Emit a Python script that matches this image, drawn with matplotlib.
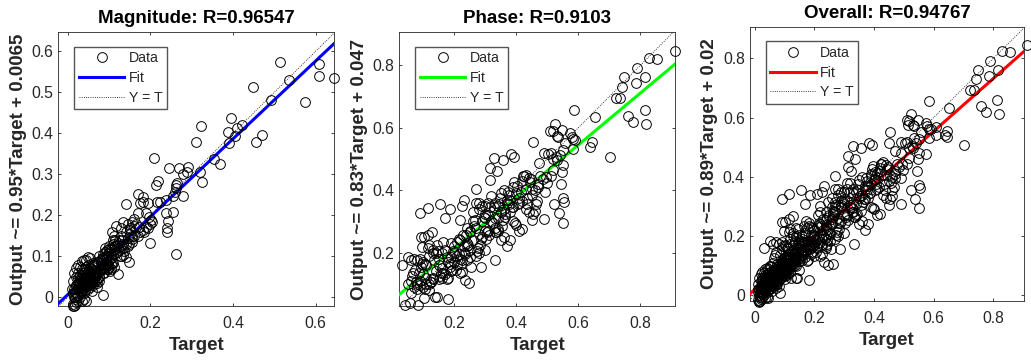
import matplotlib
matplotlib.use("Agg")
import matplotlib.pyplot as plt

plt.rcParams['font.family'] = ['Liberation Sans', 'DejaVu Sans']

mag_target = [
    .644,.608,.608,.574,.513,.535,.491,.449,.396,.421,
    .410,.404,.389,.390,.470,.456,.323,.310,.208,.246,
    .269,.290,.288,.278,.319,.325,.354,.369,.218,.213,
    .264,.262,.262,.260,.256,.278,.140,.171,.183,.183,
    .175,.195,.215,.223,.238,.254,.238,.242,.240,.240,
    .261,.200,.190,.196,.202,.198,.190,.182,.172,.165,
    .155,.145,.135,.130,.175,.170,.160,.150,.155,.185,
    .195,.205,.170,.160,.155,.148,.128,.135,.140,.148,
    .122,.108,.112,.118,.125,.130,.135,.110,.115,.120,
    .095,.100,.105,.110,.085,.090,.095,.100,.105,.110,
    .080,.085,.090,.095,.100,.105,.075,.080,.085,.090,
    .085,.075,.070,.065,.060,.055,.050,.045,.040,.035,
    .030,.025,.020,.015,.012,.010,.020,.025,.030,.035,
    .040,.045,.050,.055,.060,.065,.070,.075,.040,.045,
    .050,.055,.060,.030,.035,.040,.045,.050,.055,.020,
    .025,.030,.035,.040,.015,.020,.025,.030,.012,.015,
    .018,.020,.025,.012,.014,.016,.018,.035,.040,.045,
    .038,.035,.028,.030,.035,.040,.048,.052,.058,.062,
    .068,.072,.078,.082,.088,.092,.098,.102,.106,.110,
    .115,.120,.125,.130,.135,.140,.145,.150,.102,.098,
    .094,.090,.096,.104,.108,.112,.060,.062,.066,.070,
    .022,.027,.032,.037,.042,.047,.052,.057,.062,.067,
    .072,.077,.082,.087,.092,.097,.024,.029,.034,.039,
    .044,.049,.054,.059,.064,.069,.074,.079,.084,.089,
    .018,.023,.028,.033,.038,.043,.048,.053,.058,.063,
    .017,.021,.026,.031,.036,.041,.046,.051,.056,.061,
    .066,.071,.076,.081,.086,.091,.096,.101,.106,.111,
    .116,.121,.126,.131,.136,.141,.146,.151,.156,.161,
]
mag_output = [
    .535,.569,.540,.476,.574,.531,.482,.514,.438,.421,
    .412,.393,.402,.377,.396,.380,.419,.378,.341,.315,
    .315,.318,.306,.301,.306,.281,.337,.326,.283,.273,
    .280,.274,.266,.258,.246,.246,.228,.252,.245,.233,
    .229,.229,.232,.233,.237,.208,.205,.187,.168,.160,
    .106,.133,.205,.197,.189,.178,.172,.165,.172,.180,
    .185,.178,.183,.170,.160,.150,.175,.165,.150,.160,
    .168,.185,.205,.190,.135,.130,.100,.103,.098,.087,
    .057,.160,.150,.175,.140,.150,.130,.140,.125,.110,
    .115,.125,.115,.105,.105,.120,.100,.090,.095,.085,
    .085,.095,.110,.085,.075,.070,.100,.070,.060,.078,
    .007,.040,.035,.065,.070,.095,.098,.090,.092,.088,
    .075,.078,.072,.060,.040,.020,.050,.060,.045,.060,
    .070,.075,.080,.060,.055,.050,.045,.050,.045,.050,
    .035,.040,.035,.035,.030,.025,.030,.020,.025,.030,
    .020,.015,.015,.010,.020,.010,.005,.000,.010,.000,
    -.005,-.012,-.008,-.015,-.020,-.021,-.018,-.010,-.005,-.010,
    .055,.048,.040,.025,.040,.050,.060,.050,.015,.030,
    .040,.060,.070,.080,.090,.100,.105,.110,.120,.130,
    .140,.125,.115,.125,.120,.130,.145,.155,.065,.080,
    .095,.072,.070,.100,.085,.075,.080,.085,.060,.025,
    .020,.035,.028,.042,.036,.048,.058,.040,.066,.052,
    .062,.050,.072,.060,.082,.068,.048,.055,.068,.030,
    .040,.062,.072,.042,.078,.056,.086,.064,.096,.072,
    .012,.005,.022,.012,.026,.018,.038,.030,.046,.038,
    .002,.028,.034,.046,.020,.062,.028,.066,.034,.074,
    .056,.086,.062,.092,.068,.098,.078,.118,.082,.122,
    .108,.132,.102,.140,.112,.160,.125,.168,.142,.150,
]
phase_target = [
    .912,.855,.828,.788,.816,.786,.748,.741,.723,.735,
    .814,.759,.777,.819,.702,.585,.653,.644,.638,.591,
    .584,.573,.579,.524,.509,.519,.548,.532,.535,.557,
    .453,.583,.552,.541,.530,.519,.552,.490,.503,.511,
    .519,.546,.544,.552,.555,.523,.537,.552,.489,.472,
    .495,.498,.492,.471,.328,.356,.382,.392,.314,.337,
    .314,.270,.231,.224,.185,.170,.218,.114,.090,.154,
    .128,.116,.102,.092,.097,.229,.332,.285,.247,.234,
    .224,.218,.181,.143,.138,.103,.082,.057,.041,.030,
    .052,
    .06,.07,.08,.09,.05,.06,.07,.08,.10,.11,
    .12,.13,.14,.15,.16,.10,.11,.12,.13,.14,
    .06,.08,.09,.10,.11,.12,.13,.15,.16,.17,
    .18,.19,.20,.21,.17,.18,.19,.20,.21,.22,
    .23,.24,.25,.26,.27,.28,.22,.23,.24,.25,
    .26,.27,.28,.29,.30,.31,.26,.27,.28,.29,
    .30,.31,.32,.33,.34,.35,.36,.37,.38,.30,
    .32,.33,.34,.35,.36,.37,.38,.39,.40,.41,
    .42,.43,.44,.45,.46,.38,.39,.40,.41,.42,
    .43,.44,.45,.46,.47,.35,.36,.37,.34,.33,
    .28,.29,.30,.31,.25,.24,.19,.20,.15,.16,
    .065,.075,.085,.095,.105,.115,.125,.135,.145,.155,
    .165,.175,.185,.195,.205,.215,.225,.235,.245,.255,
    .265,.275,.285,.295,.305,.315,.325,.335,.345,.355,
    .365,.375,.385,.395,.405,.415,.425,.435,.445,.455,
    .072,.088,.104,.118,.132,.148,.162,.178,.192,.208,
    .222,.238,.252,.268,.282,.298,.312,.328,.342,.358,
    .372,.388,.402,.418,.432,.448,.462,.478,.512,.528,
    .068,.092,.126,.158,.186,.214,.242,.272,.302,.332,
    .348,.362,.378,.392,.408,.422,.436,.452,.468,.485,
]
phase_output = [
    .845,.820,.825,.791,.762,.742,.762,.731,.694,.694,
    .658,.638,.620,.611,.506,.657,.634,.555,.540,.561,
    .563,.582,.572,.612,.591,.590,.593,.575,.572,.550,
    .553,.532,.529,.513,.497,.499,.481,.518,.516,.518,
    .465,.459,.419,.374,.363,.356,.326,.296,.307,.487,
    .443,.424,.395,.411,.504,.497,.515,.507,.470,.462,
    .433,.403,.369,.349,.340,.310,.303,.342,.326,.356,
    .267,.257,.249,.249,.217,.257,.175,.155,.104,.112,
    .139,.134,.053,.057,.059,.056,.031,.040,.031,.160,
    .185,
    .175,.18,.175,.18,.10,.11,.09,.10,.17,.16,
    .19,.21,.20,.18,.20,.13,.12,.10,.12,.14,
    .07,.085,.11,.09,.10,.08,.20,.16,.15,.13,
    .12,.14,.17,.19,.21,.17,.23,.22,.16,.18,
    .22,.23,.21,.24,.19,.20,.24,.20,.22,.27,
    .30,.28,.26,.25,.21,.27,.33,.36,.36,.30,
    .35,.32,.30,.28,.27,.24,.25,.22,.24,.27,
    .38,.36,.35,.33,.34,.36,.33,.30,.29,.27,
    .275,.34,.33,.305,.335,.37,.41,.39,.36,.43,
    .45,.44,.385,.40,.42,.39,.40,.37,.31,.31,
    .34,.35,.31,.36,.265,.28,.185,.20,.115,.12,
    .125,.105,.135,.165,.085,.215,.105,.175,.225,.125,
    .235,.115,.155,.205,.145,.245,.175,.195,.225,.155,
    .285,.215,.245,.315,.265,.345,.295,.265,.355,.285,
    .325,.385,.345,.295,.355,.395,.445,.375,.425,.325,
    .145,.095,.165,.225,.115,.205,.135,.185,.145,.235,
    .165,.255,.185,.305,.225,.325,.255,.345,.275,.305,
    .395,.345,.415,.365,.405,.435,.355,.445,.445,.505,
    .135,.155,.105,.135,.165,.195,.175,.205,.245,.265,
    .375,.315,.355,.425,.375,.445,.355,.405,.365,.435,
]
overall_target = mag_target + phase_target
overall_output = mag_output + phase_output

titles = ["Magnitude: R=0.96547", "Phase: R=0.9103", "Overall: R=0.94767"]
ylabels = ["Output ~= 0.95*Target + 0.0065", "Output ~= 0.83*Target + 0.047",
           "Output ~= 0.89*Target + 0.02"]
slopes = [0.95, 0.83, 0.89]
intercepts = [0.0065, 0.047, 0.02]
fit_colors = ["#0000ff", "#00ff00", "#ff0000"]
xlims = [(-0.0226, 0.645), (0.0226, 0.913), (-0.0168, 0.904)]
ylims = [(-0.021, 0.647), (0.029, 0.907), (-0.020, 0.907)]
xticks = [[0, .2, .4, .6], [.2, .4, .6, .8], [0, .2, .4, .6, .8]]
yticks = [[0, .1, .2, .3, .4, .5, .6], [.2, .4, .6, .8], [0, .2, .4, .6, .8]]
boxes_px = [(58.3, 32, 334.3, 306), (399.3, 32, 675.3, 306), (749.7, 26.7, 1024.3, 301.3)]
series = [(mag_target, mag_output), (phase_target, phase_output), (overall_target, overall_output)]

W, H = 1031, 360
fig = plt.figure(figsize=(W / 100, H / 100), dpi=100)
dark = "#262626"

for i in range(3):
    x0, y0, x1, y1 = boxes_px[i]
    ax = fig.add_axes([x0 / W, 1 - y1 / H, (x1 - x0) / W, (y1 - y0) / H])
    xl, yl = xlims[i], ylims[i]
    ax.plot(series[i][0], series[i][1], 'o', mfc='none', mec='black', ms=7.0, mew=0.7,
            clip_on=False, zorder=4, label="Data")
    ax.plot(xl, [slopes[i] * v + intercepts[i] for v in xl], '-', color=fit_colors[i],
            lw=2.2, zorder=3, label="Fit")
    ax.plot(xl, xl, ':', color='black', lw=0.6, zorder=2, label="Y = T")
    ax.set_xlim(xl)
    ax.set_ylim(yl)
    ax.set_xticks(xticks[i])
    ax.set_yticks(yticks[i])
    ax.set_xticklabels(["0" if v == 0 else f"{v:g}" for v in xticks[i]])
    ax.set_yticklabels(["0" if v == 0 else f"{v:g}" for v in yticks[i]])
    ax.tick_params(axis='both', direction='in', top=True, right=True, length=2.2, width=0.6,
                   labelsize=11.3, colors=dark)
    ax.tick_params(axis='x', pad=7)
    ax.tick_params(axis='y', pad=3.5)
    for s in ax.spines.values():
        s.set_linewidth(0.6)
        s.set_color(dark)
    ax.set_title(titles[i], fontsize=13.5, fontweight='bold', color='black', pad=6.5)
    ax.set_xlabel("Target", fontsize=13.5, fontweight='bold', color=dark, labelpad=4.5)
    ax.set_ylabel(ylabels[i], fontsize=13.5, fontweight='bold', color=dark, labelpad=3.5)
    leg = ax.legend(loc='upper left', bbox_to_anchor=(16 / (x1 - x0), 1 - 14.7 / (y1 - y0)),
                    borderaxespad=0, fontsize=10.2, handlelength=3.2, handletextpad=0.3,
                    labelspacing=0.4, borderpad=0.33, fancybox=False, framealpha=1,
                    edgecolor="#555555", labelcolor=dark)
    leg.get_frame().set_linewidth(1.0)

fig.savefig("out.png", dpi=100)
